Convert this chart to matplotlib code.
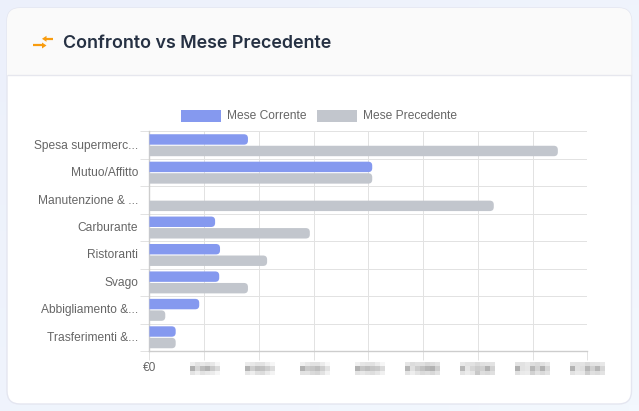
import numpy as np
import matplotlib
matplotlib.use("Agg")
import matplotlib.pyplot as plt
from matplotlib.patches import PathPatch, FancyBboxPatch, Rectangle, Polygon
from matplotlib.path import Path
from matplotlib.transforms import ScaledTranslation

W, H = 639, 411

categories = ["Spesa supermerc...", "Mutuo/Affitto", "Manutenzione & ...", "Carburante",
              "Ristoranti", "Svago", "Abbigliamento &...", "Trasferimenti &..."]
current_month = [360, 814, 0, 240, 258, 255, 182, 96]
previous_month = [1492, 814, 1258, 586, 430, 360, 58, 96]
series_names = ["Mese Corrente", "Mese Precedente"]
x_ticks = [0, 200, 400, 600, 800, 1000, 1200, 1400, 1600]
zero_label = "€0"
title = "Confronto vs Mese Precedente"

COL_CURRENT = "#8599ef"
COL_PREVIOUS = "#c2c6cd"
GRID = "#e2e2e2"
AXIS = "#cdcdcd"
TEXT = "#666666"

# Obscured amounts under the x axis, as rows of grey levels
amount_masks = [
    [[238, 228, 232, 228, 232, 246], [176, 214, 190, 178, 202, 218], [228, 238, 226, 232, 236, 246]],
    [[236, 232, 226, 228, 238, 246], [180, 206, 190, 194, 206, 220], [230, 238, 224, 220, 234, 244]],
    [[240, 232, 226, 226, 236, 248], [178, 202, 198, 190, 206, 226], [226, 228, 218, 214, 226, 242]],
    [[240, 230, 228, 226, 236, 246], [178, 198, 190, 198, 202, 218], [228, 232, 226, 222, 230, 240]],
    [[230, 220, 224, 224, 216, 220, 226], [182, 224, 204, 194, 182, 178, 206], [228, 238, 228, 218, 222, 216, 228]],
    [[232, 228, 226, 218, 224, 226, 228], [184, 230, 214, 204, 208, 178, 210], [228, 236, 230, 200, 222, 218, 224]],
    [[228, 226, 232, 222, 218, 224, 232], [176, 226, 230, 184, 212, 178, 214], [224, 234, 236, 210, 226, 218, 228]],
    [[228, 226, 228, 218, 226, 228, 232], [180, 226, 222, 182, 208, 182, 214], [226, 234, 232, 206, 224, 220, 228]],
]
amount_spans = [(190, 220), (245, 275), (300, 330), (355, 385),
                (405, 440), (460, 495), (515, 550), (570, 605)]

fig = plt.figure(figsize=(W / 100, H / 100), dpi=100)

# Page layer, addressed in pixels from the top-left corner
page = fig.add_axes([0, 0, 1, 1])
page.axis("off")

start, end = np.array([0xec, 0xf0, 0xfb]) / 255, np.array([0xf3, 0xf8, 0xfe]) / 255
yy, xx = np.mgrid[0:1:64j, 0:1:64j]
t = ((xx + yy) / 2)[..., None]
page.imshow(start * (1 - t) + end * t, extent=(0, W, H, 0), aspect="auto", zorder=0)

card = FancyBboxPatch((7, 8), 624.5, 396, boxstyle="round,pad=0,rounding_size=13",
                      fc="white", ec="#e4e6f0", lw=1, zorder=1)
page.add_patch(card)
header = Rectangle((7, 8), 625, 67, fc="#fafafa", ec="none", zorder=2)
header.set_clip_path(card)
page.add_patch(header)
page.plot([7.5, 631], [75.5, 75.5], color="#e6e7ee", lw=1, zorder=3)

# Header icon: two opposing arrows
ORANGE = "#f89c0e"
page.plot([33, 42], [45.5, 45.5], color=ORANGE, lw=1.6, zorder=4, solid_capstyle="butt")
page.add_patch(Polygon([[46.5, 45.5], [42, 42.5], [42, 48.5]], fc=ORANGE, ec="none", zorder=4))
page.plot([53, 46], [38.8, 38.8], color=ORANGE, lw=1.6, zorder=4, solid_capstyle="butt")
page.add_patch(Polygon([[42, 38.8], [46.5, 35.8], [46.5, 41.8]], fc=ORANGE, ec="none", zorder=4))

page.text(63, 43, title, family="Inter", weight="semibold", fontsize=12.9,
          color="#263143", va="center", ha="left", zorder=4)

# Legend
swatches = [(181, COL_CURRENT), (317, COL_PREVIOUS)]
for (sx, col), name in zip(swatches, series_names):
    page.add_patch(Rectangle((sx, 109.5), 40, 12.5, fc=col, ec="none", zorder=4))
    page.text(sx + 46, 115.5, name, family="Liberation Sans", fontsize=8.64,
              color=TEXT, va="center", ha="left", zorder=4)

# Obscured tick amounts
for mask, (x0, x1) in zip(amount_masks, amount_spans):
    page.imshow(np.array(mask) / 255, cmap="gray", vmin=0, vmax=1, interpolation="nearest",
                extent=(x0, x1, 375, 362), aspect="auto", zorder=4)
page.set_xlim(0, W)
page.set_ylim(H, 0)

# Chart area
L, R, T, B = 149.4, 587.4, 131.5, 351.0
ax = fig.add_axes([L / W, 1 - B / H, (R - L) / W, (B - T) / H])
ax.patch.set_alpha(0)
ax.set_xlim(x_ticks[0], x_ticks[-1])
n = len(categories)
ax.set_ylim(n, 0)

for s in ("top", "right"):
    ax.spines[s].set_visible(False)
for s in ("left", "bottom"):
    ax.spines[s].set_color(AXIS)
    ax.spines[s].set_linewidth(1)

ax.set_xticks(x_ticks)
ax.set_xticklabels([zero_label] + [""] * (len(x_ticks) - 1), family="Liberation Sans",
                   fontsize=8.64, color=TEXT)
ax.tick_params(axis="x", length=6.2, width=0.72, color=GRID, pad=1.8)
ax.set_yticks(np.arange(n) + 0.5)
ax.set_yticklabels(categories, family="Liberation Sans", fontsize=8.64, color=TEXT)
ax.tick_params(axis="y", which="major", length=0, pad=8.0)
lift = ScaledTranslation(0, 1 / 100, fig.dpi_scale_trans)
for lab in ax.get_yticklabels():
    lab.set_transform(lab.get_transform() + lift)
ax.set_yticks(np.arange(n + 1), minor=True)
ax.tick_params(axis="y", which="minor", length=6.2, width=0.72, color=GRID)
ax.grid(True, axis="x", color=GRID, lw=0.72, zorder=0)
ax.grid(True, axis="y", which="minor", color=GRID, lw=0.72, zorder=0)
ax.set_axisbelow(True)


def rounded_bar(axis, value, y0, y1, color, radius_px=4.0):
    """Horizontal bar from zero with rounded corners at its far end."""
    if value <= 0:
        return
    rx = radius_px * (x_ticks[-1] - x_ticks[0]) / (R - L)
    ry = radius_px * n / (B - T)
    ry = min(ry, (y1 - y0) / 2)
    rx = min(rx, value)
    verts = [(0, y0), (value - rx, y0), (value, y0), (value, y0 + ry),
             (value, y1 - ry), (value, y1), (value - rx, y1), (0, y1), (0, y0)]
    codes = [Path.MOVETO, Path.LINETO, Path.CURVE3, Path.CURVE3,
             Path.LINETO, Path.CURVE3, Path.CURVE3, Path.LINETO, Path.CLOSEPOLY]
    axis.add_patch(PathPatch(Path(verts, codes), fc=color, ec="none", zorder=3, clip_on=False))


BAR_H = 0.38
for i, (cur, prev) in enumerate(zip(current_month, previous_month)):
    rounded_bar(ax, cur, i + 0.5 - 0.02 - BAR_H, i + 0.5 - 0.02, COL_CURRENT)
    rounded_bar(ax, prev, i + 0.5 + 0.02, i + 0.5 + 0.02 + BAR_H, COL_PREVIOUS)

fig.savefig("out.png", dpi=100)
